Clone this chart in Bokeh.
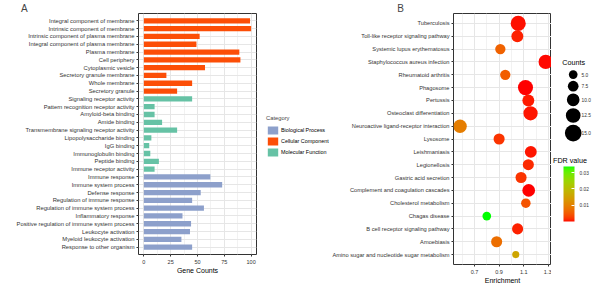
from bokeh.plotting import figure
from bokeh.models import (ColumnDataSource, FactorRange, Range1d, FixedTicker, Legend, LegendItem,
                          LinearColorMapper, ColorBar, LinearInterpolator)
from bokeh.transform import transform
from bokeh.layouts import row
from bokeh.embed import file_html
from bokeh.resources import INLINE
from bokeh.core.properties import value

FONT = "Liberation Sans"

# ---------------- data: panel A (GO terms) ----------------
go_terms = [
    "Integral component of membrane", "Intrinsic component of membrane",
    "Intrinsic component of plasma membrane", "Integral component of plasma membrane",
    "Plasma membrane", "Cell periphery", "Cytoplasmic vesicle", "Secretory granule membrane",
    "Whole membrane", "Secretory granule",
    "Signaling receptor activity", "Pattern recognition receptor activity", "Amyloid-beta binding",
    "Amide binding", "Transmembrane signaling receptor activity", "Lipopolysaccharide binding",
    "IgG binding", "Immunoglobulin binding", "Peptide binding", "Immune receptor activity",
    "Immune response", "Immune system process", "Defense response", "Regulation of immune response",
    "Regulation of immune system process", "Inflammatory response",
    "Positive regulation of immune system process", "Leukocyte activation",
    "Myeloid leukocyte activation", "Response to other organism",
]
go_counts = [99, 100, 52, 49, 89, 90, 57, 21, 45, 31,
             45, 10, 10, 17, 31, 7, 5, 6, 14, 10,
             62, 73, 53, 45, 56, 36, 44, 43, 35, 45]
go_category = (["Cellular Component"] * 10 + ["Molecular Function"] * 10 +
               ["Biological Process"] * 10)
cat_names = ["Biological Process", "Cellular Component", "Molecular Function"]
cat_colors = ["#8DA0CB", "#FC4E07", "#66C2A5"]
go_ticks = [0, 25, 50, 75, 100]
go_minor = [12.5, 37.5, 62.5, 87.5]

# ---------------- data: panel B (KEGG) ----------------
kegg_terms = [
    "Tuberculosis", "Toll-like receptor signaling pathway", "Systemic lupus erythematosus",
    "Staphylococcus aureus infection", "Rheumatoid arthritis", "Phagosome", "Pertussis",
    "Osteoclast differentiation", "Neuroactive ligand-receptor interaction", "Lysosome",
    "Leishmaniasis", "Legionellosis", "Gastric acid secretion",
    "Complement and coagulation cascades", "Cholesterol metabolism", "Chagas disease",
    "B cell receptor signaling pathway", "Amoebiasis",
    "Amino sugar and nucleotide sugar metabolism",
]
kegg_enrichment = [1.055, 1.048, 0.91, 1.278, 0.95, 1.114, 1.137, 1.155, 0.583, 0.90,
                   1.157, 1.137, 1.078, 1.14, 1.117, 0.80, 1.05, 0.88, 1.035]
kegg_counts = [13, 9, 7, 12, 7, 13, 9, 12, 11, 8, 9, 8, 8, 10, 6, 5, 8, 8, 3]
kegg_fdr = [0.0005, 0.001, 0.006, 0.0004, 0.0055, 0.0003, 0.0008, 0.0006, 0.0095, 0.002,
            0.0006, 0.0015, 0.002, 0.0002, 0.0045, 0.0337, 0.001, 0.0075, 0.016]
enrich_ticks = [0.7, 0.9, 1.1, 1.3]
enrich_minor = [0.6, 0.8, 1.0, 1.2]
size_breaks = [5, 7.5, 10, 12.5, 15]
size_labels = ["5.0", "7.5", "10.0", "12.5", "15.0"]
fdr_ticks = [0.01, 0.02, 0.03]

# ---------------- palette: red -> green interpolated in Lab ----------------
def _hex_to_lab(h):
    rgb = [int(h[i:i + 2], 16) / 255 for i in (1, 3, 5)]
    r, g, b = [c / 12.92 if c <= 0.04045 else ((c + 0.055) / 1.055) ** 2.4 for c in rgb]
    X = (0.4124564 * r + 0.3575761 * g + 0.1804375 * b) / 0.95047
    Y = 0.2126729 * r + 0.7151522 * g + 0.0721750 * b
    Z = (0.0193339 * r + 0.1191920 * g + 0.9503041 * b) / 1.08883
    f = lambda t: t ** (1 / 3) if t > 0.008856 else 7.787 * t + 16 / 116
    fx, fy, fz = f(X), f(Y), f(Z)
    return 116 * fy - 16, 500 * (fx - fy), 200 * (fy - fz)

def _lab_to_hex(L, a, b):
    fy = (L + 16) / 116
    fx, fz = fy + a / 500, fy - b / 200
    finv = lambda t: t ** 3 if t ** 3 > 0.008856 else (t - 16 / 116) / 7.787
    X, Y, Z = 0.95047 * finv(fx), finv(fy), 1.08883 * finv(fz)
    r = 3.2404542 * X - 1.5371385 * Y - 0.4985314 * Z
    g = -0.9692660 * X + 1.8760108 * Y + 0.0415560 * Z
    bb = 0.0556434 * X - 0.2040259 * Y + 1.0572252 * Z
    def gam(c):
        c = min(max(c, 0.0), 1.0)
        return 12.92 * c if c <= 0.0031308 else 1.055 * c ** (1 / 2.4) - 0.055
    return "#%02x%02x%02x" % tuple(int(round(gam(c) * 255)) for c in (r, g, bb))

_lo, _hi = _hex_to_lab("#FF0000"), _hex_to_lab("#00FF00")
palette = [_lab_to_hex(*[_lo[k] + (_hi[k] - _lo[k]) * i / 255 for k in range(3)]) for i in range(256)]
mapper = LinearColorMapper(palette=palette, low=min(kegg_fdr), high=max(kegg_fdr))
size_map = LinearInterpolator(x=[0, 20], y=[4.7, 20.7])

TXT = "#333333"
TOP, BOTTOM = 13, 21
NAN = float("nan")

def style(p):
    p.outline_line_color = "#333333"
    p.outline_line_width = 1
    for ax in (p.xaxis, p.yaxis):
        ax.axis_line_color = None
        ax.major_tick_line_color = "#333333"
        ax.major_tick_out = 2
        ax.major_tick_in = 0
        ax.minor_tick_line_color = None
        ax.major_label_text_font = FONT
        ax.major_label_text_color = TXT
        ax.axis_label_text_font = FONT
        ax.axis_label_text_font_style = "normal"
        ax.axis_label_text_color = "#000000"
    p.xgrid.grid_line_color = "#E6E6E6"
    p.ygrid.grid_line_color = "#E6E6E6"
    p.xgrid.minor_grid_line_color = "#F2F2F2"
    p.xaxis.major_label_standoff = 1
    p.xaxis.axis_label_standoff = 0
    p.yaxis.major_label_standoff = 2
    p.title.text_font = FONT
    p.title.text_font_size = "10px"
    p.title.text_font_style = "normal"
    p.title.standoff = 0
    p.title.align = "left"
    p.title.vertical_align = "bottom"

def legend_canvas(x0, x1):
    """A bare canvas whose data coordinates are the page's pixels, for legends."""
    p = figure(width=x1 - x0, height=286, output_backend="svg", toolbar_location=None,
               x_range=Range1d(0, x1 - x0), y_range=Range1d(286 - BOTTOM, TOP),
               x_axis_type=None, y_axis_type=None,
               min_border_left=0, min_border_right=0, min_border_top=TOP, min_border_bottom=BOTTOM)
    p.grid.visible = False
    p.outline_line_color = None
    return p

# ---------------- panel A ----------------
A_RIGHT = 257
p1 = figure(width=A_RIGHT, height=276, output_backend="svg", toolbar_location=None,
            title="A", x_range=Range1d(-5, 105),
            y_range=FactorRange(factors=list(reversed(go_terms)), range_padding=0.44,
                                range_padding_units="absolute"),
            min_border_left=138, min_border_right=1, min_border_top=TOP, min_border_bottom=BOTTOM)
style(p1)
p1.title.offset = -117.5
for name, color in zip(cat_names, cat_colors):
    idx = [i for i, c in enumerate(go_category) if c == name]
    src = ColumnDataSource(dict(term=[go_terms[i] for i in idx], count=[go_counts[i] for i in idx]))
    p1.hbar(y="term", left=0, right="count", height=0.68, source=src,
            fill_color=color, line_color=None)
p1.xaxis.ticker = FixedTicker(ticks=go_ticks, minor_ticks=go_minor)
p1.xaxis.axis_label = "Gene Counts"
p1.xaxis.axis_label_text_font_size = "7px"
p1.xaxis.major_label_text_font_size = "5.5px"
p1.yaxis.major_label_text_font_size = "5.8px"

# category legend on its own canvas (legend-only renderers hold no visible data)
LX0 = A_RIGHT
pL = legend_canvas(LX0, 329)
leg_rends = [pL.hbar(y=[NAN], left=[NAN], right=[NAN], height=0.68, fill_color=c, line_color=None)
             for c in cat_colors]
leg = Legend(items=[LegendItem(label=n, renderers=[r], index=0) for n, r in zip(cat_names, leg_rends)],
             location=(266 - LX0, 286 - BOTTOM - 157.5), title="Category",
             title_text_font=FONT, title_text_font_size="5.8px", title_text_font_style="normal",
             label_text_font=FONT, label_text_font_size="5.4px", label_text_color="#000000",
             glyph_width=13, glyph_height=10, label_height=10, spacing=1, padding=0, margin=0,
             label_standoff=2, title_standoff=4, border_line_color=None, background_fill_alpha=0)
pL.add_layout(leg)

# ---------------- panel B ----------------
p2 = figure(width=222, height=286, output_backend="svg", toolbar_location=None,
            title="B", x_range=Range1d(0.53, 1.325),
            y_range=FactorRange(factors=list(reversed(kegg_terms)), range_padding=0.27,
                                range_padding_units="absolute"),
            min_border_left=119, min_border_right=0, min_border_top=TOP, min_border_bottom=BOTTOM)
style(p2)
p2.title.offset = -56.3
src2 = ColumnDataSource(dict(term=kegg_terms, enrich=kegg_enrichment, count=kegg_counts, fdr=kegg_fdr))
p2.scatter(x="enrich", y="term", source=src2, size=transform("count", size_map),
           fill_color={"field": "fdr", "transform": mapper}, line_color=None)
p2.xaxis.ticker = FixedTicker(ticks=enrich_ticks, minor_ticks=enrich_minor)
p2.xaxis.axis_label = "Enrichment"
p2.xaxis.axis_label_text_font_size = "7px"
p2.xaxis.major_label_text_font_size = "5.5px"
p2.yaxis.major_label_text_font_size = "5.7px"

# ---------------- legends for panel B ----------------
X0 = 551
p3 = legend_canvas(X0, 600)
key_d = [4.7 + 0.8 * c for c in size_breaks]
key_y = [74.3]
for i in range(1, len(size_breaks)):
    key_y.append(key_y[-1] + (key_d[i - 1] + key_d[i]) / 2 + 2)
src3 = ColumnDataSource(dict(count=size_breaks, lab=size_labels, y=key_y,
                             x=[572.7 - X0] * 5, tx=[581 - X0] * 5))
p3.scatter(x="x", y="y", source=src3, size=transform("count", size_map),
           fill_color="#000000", line_color=None)
p3.text(x="tx", y="y", text="lab", source=src3, text_font=value(FONT), text_font_size="4.8px",
        text_baseline="middle", text_color=TXT)
p3.text(x=[561.7 - X0, 552.5 - X0], y=[62, 160.7], text=["Counts", "FDR value"],
        text_font=value(FONT), text_font_size="7.2px", text_baseline="middle",
        text_color="#000000")
cb = ColorBar(color_mapper=mapper, ticker=FixedTicker(ticks=fdr_ticks), width=11, height=55,
              location=(563 - X0, 286 - BOTTOM - 222), padding=0, margin=0,
              major_label_text_font=FONT, major_label_text_font_size="4.8px",
              major_label_text_color=TXT, major_tick_line_color="white", major_tick_in=3,
              major_tick_out=0, minor_tick_line_color=None, label_standoff=5,
              background_fill_alpha=0, bar_line_color=None, border_line_color=None)
p3.add_layout(cb)

layout = row(p1, pL, p2, p3)
open("out.html", "w").write(file_html(layout, INLINE))
